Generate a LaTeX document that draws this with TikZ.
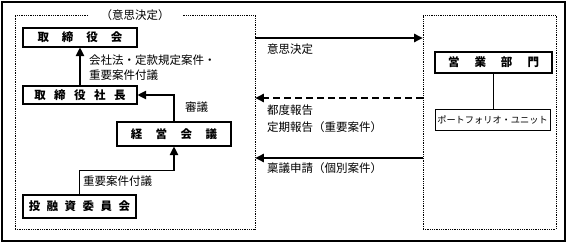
\documentclass[tikz,border=0pt]{standalone}
\usepackage{fontspec}
\newfontfamily\cjk{Noto Sans CJK JP}
\usetikzlibrary{arrows.meta}
\tikzset{
  box/.style={draw, line width=1.1pt, inner sep=0pt, font=\cjk\fontsize{11.5}{13}\selectfont\bfseries},
  lbl/.style={inner sep=0pt, anchor=west, font=\cjk\fontsize{11.5}{13}\selectfont},
  grp/.style={draw, line width=0.9pt, dash pattern=on 0.9pt off 0.9pt, inner sep=0pt},
  arr/.style={line width=1.1pt, -{Triangle[length=8.5pt,width=8.5pt]}},
}
\newcommand{\gp}[1]{\hspace{#1}}
\begin{document}
\begin{tikzpicture}[x={(1pt,0)}, y={(0,-1pt)}]
\useasboundingbox (0,0) rectangle (567,243);
\node[draw, line width=1.1pt, minimum width=563pt, minimum height=239pt, inner sep=0pt] (frame) at (283.5,121.5) {};
% groups
\node[grp, minimum width=240pt, minimum height=214pt] (leftgrp) at (135,122) {};
\node[grp, minimum width=133pt, minimum height=214pt] (rightgrp) at (489.5,122) {};
\node[fill=white, inner xsep=12pt, inner ysep=1pt, font=\cjk\fontsize{11.5}{13}\selectfont] (title) at (135,15) {（意思決定）};
% boxes
\node[box, minimum width=114pt, minimum height=19pt] (board) at (80,37.5) {取\gp{13pt}締\gp{13pt}役\gp{13pt}会};
\node[box, minimum width=114pt, minimum height=18pt] (pres) at (80,95) {取\gp{8.5pt}締\gp{8.5pt}役\gp{8.5pt}社\gp{8.5pt}長};
\node[box, minimum width=114pt, minimum height=24pt] (mgmt) at (174,134) {経\gp{13.5pt}営\gp{13.5pt}会\gp{13.5pt}議};
\node[box, minimum width=113pt, minimum height=23pt] (invest) at (79.5,206.5) {投\gp{6.5pt}融\gp{6.5pt}資\gp{6.5pt}委\gp{6.5pt}員\gp{6.5pt}会};
\node[box, minimum width=117pt, minimum height=21pt] (sales) at (493.5,62.5) {営\gp{15pt}業\gp{15pt}部\gp{15pt}門};
\node[draw, line width=1pt, inner sep=0pt, minimum width=115pt, minimum height=20pt, font=\cjk\fontsize{9.2}{11}\selectfont] (pf) at (492.5,120) {ポートフォリオ・ユニット};
% internal connectors
\draw[arr] (pres.north) -- (board.south);
\draw[arr] (mgmt.north) |- (pres.east);
\draw[arr] (invest.north) -- ++(0,-24) -| (mgmt.south);
\draw[line width=1pt] (sales.south) -- (sales.south |- pf.north);
% cross arrows
\coordinate (ya) at (0,38);
\coordinate (yb) at (0,98);
\coordinate (yc) at (0,158);
\draw[arr] (leftgrp.east |- ya) -- (rightgrp.west |- ya);
\draw[arr, dash pattern=on 7pt off 4pt] (rightgrp.west |- yb) -- (leftgrp.east |- yb);
\draw[arr] (rightgrp.west |- yc) -- (leftgrp.east |- yc);
% labels
\node[lbl] (l1) at (89,60) {会社法・定款規定案件・};
\node[lbl] (l2) at (89,75) {重要案件付議};
\node[lbl] (l3) at (185,107) {審議};
\node[lbl] (l4) at (83,181) {重要案件付議};
\node[lbl] (l5) at (267,49) {意思決定};
\node[lbl] (l6) at (267,110) {都度報告};
\node[lbl] (l7) at (267,127) {定期報告（重要案件）};
\node[lbl] (l8) at (267,168) {稟議申請（個別案件）};
\end{tikzpicture}
\end{document}
